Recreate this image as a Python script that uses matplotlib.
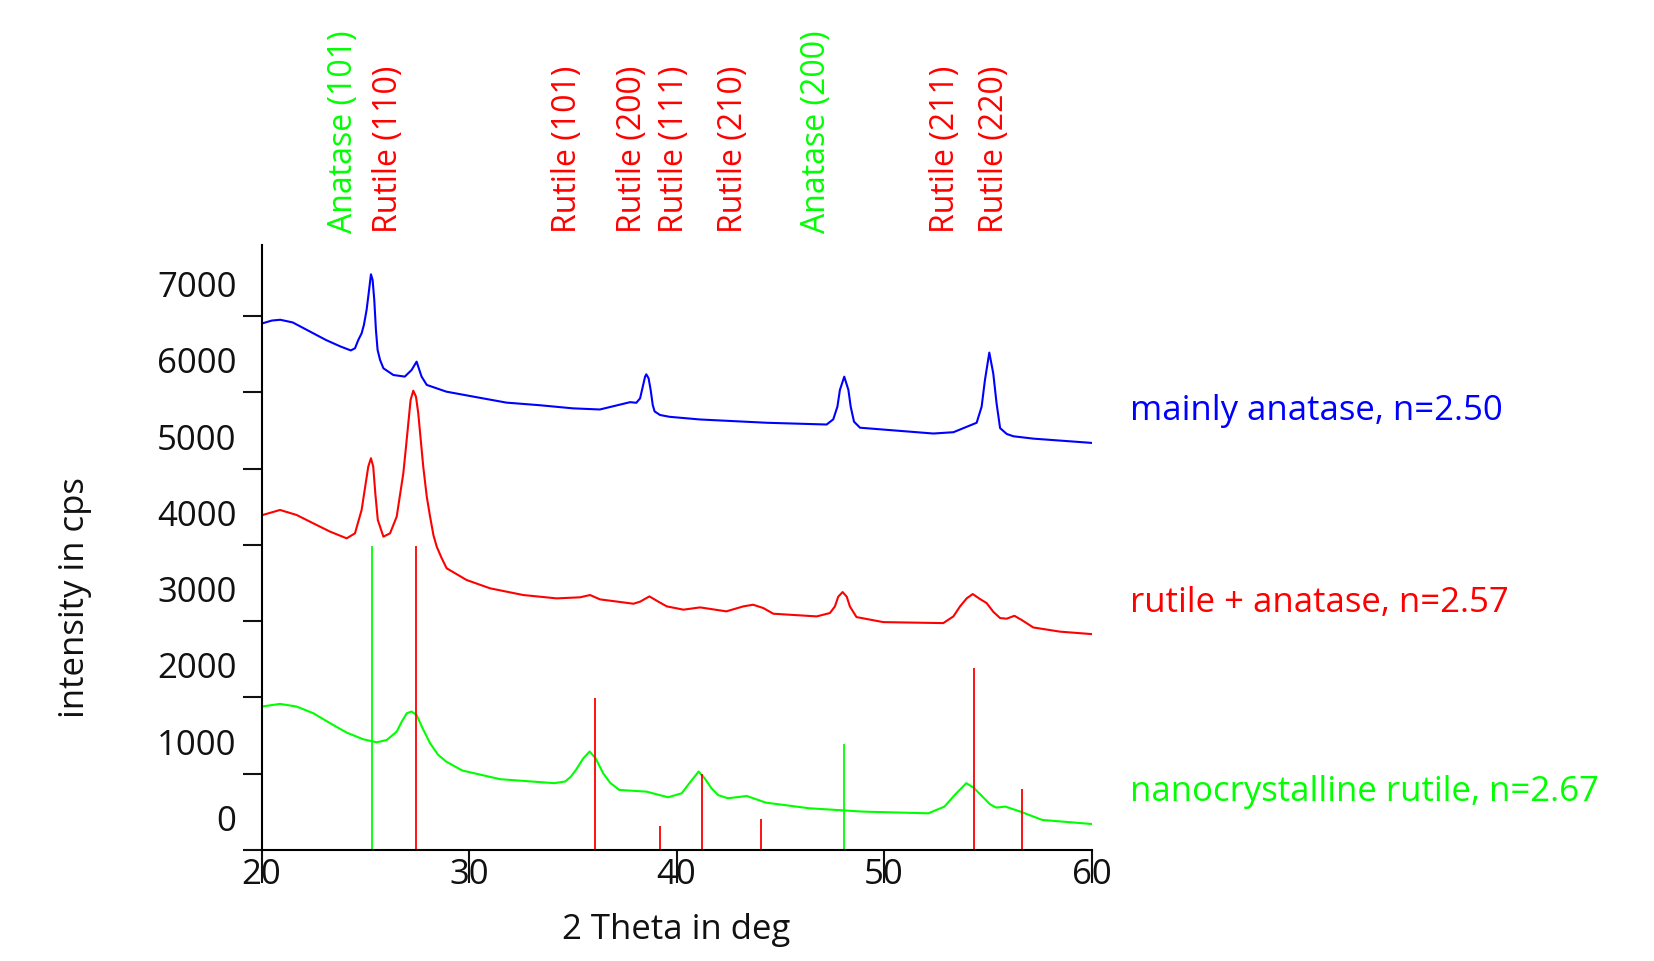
import matplotlib.pyplot as plt
import matplotlib.transforms as mtransforms

plt.rcParams['font.family'] = ['Open Sans', 'DejaVu Sans']

# XRD scans, 2 theta in deg / intensity in cps
anatase_2th = [20.0, 20.5, 20.9, 21.5, 22.3, 23.1, 23.8, 24.3, 24.5, 24.66, 24.82, 24.93,
               25.06, 25.16, 25.27, 25.35, 25.43, 25.51, 25.59, 25.71, 25.87, 26.35, 26.9,
               27.23, 27.47, 27.71, 27.96, 28.9, 30.2, 31.8, 33.4, 35.0, 36.3, 37.76, 38.06,
               38.24, 38.37, 38.48, 38.54, 38.65, 38.75, 38.85, 38.94, 39.2, 39.66, 41.13,
               44.34, 47.23, 47.55, 47.75, 47.87, 48.08, 48.28, 48.39, 48.55, 48.84, 52.37,
               53.34, 53.98, 54.46, 54.7, 54.86, 55.07, 55.26, 55.42, 55.59, 55.91, 56.23,
               57.19, 60.0]
anatase_cps = [6900, 6940, 6950, 6915, 6800, 6685, 6600, 6548, 6576, 6685, 6772, 6882,
               7079, 7297, 7546, 7471, 7209, 6816, 6554, 6423, 6314, 6226, 6205,
               6292, 6401, 6205, 6096, 6008, 5943, 5864, 5830, 5789, 5774, 5870, 5862,
               5920, 6073, 6204, 6235, 6183, 6030, 5833, 5749, 5702, 5678, 5643,
               5600, 5577, 5645, 5811, 6030, 6204, 6030, 5811, 5614, 5535, 5459,
               5476, 5547, 5600, 5811, 6160, 6520, 6248, 5855, 5530, 5453, 5423,
               5392, 5336]

mixed_2th = [20.05, 20.89, 21.69, 22.49, 23.3, 24.1, 24.5, 24.82, 24.98, 25.14, 25.27, 25.38,
             25.48, 25.6, 25.87, 26.19, 26.51, 26.83, 26.96, 27.07, 27.18, 27.31, 27.44,
             27.55, 27.67, 27.79, 27.96, 28.12, 28.28, 28.44, 28.68, 28.92, 29.88, 31.01,
             32.61, 34.22, 35.34, 35.83, 36.31, 37.92, 38.24, 38.69, 39.12, 39.53, 40.33,
             41.13, 42.4, 43.21, 43.69, 44.18, 44.66, 46.75, 47.39, 47.63, 47.79, 48.0,
             48.2, 48.35, 48.67, 49.96, 52.85, 53.34, 53.66, 53.98, 54.27, 54.62, 54.94,
             55.26, 55.59, 55.91, 56.28, 56.63, 57.19, 58.48, 60.0]
mixed_cps = [4391, 4457, 4391, 4282, 4173, 4085, 4151, 4457, 4741, 5024, 5135, 5024,
             4675, 4326, 4107, 4151, 4369, 4938, 5287, 5593, 5898, 6020, 5942,
             5724, 5374, 5025, 4631, 4369, 4129, 3976, 3824, 3692, 3539, 3430,
             3342, 3298, 3312, 3342, 3285, 3228, 3255, 3324, 3255, 3193, 3150,
             3180, 3128, 3193, 3215, 3171, 3097, 3062, 3106, 3193, 3320, 3381,
             3320, 3193, 3053, 2987, 2974, 3062, 3193, 3298, 3355, 3290, 3237,
             3123, 3040, 3032, 3070, 3015, 2917, 2862, 2830]

nano_2th = [20.0, 20.89, 21.69, 22.49, 23.3, 24.1, 24.9, 25.55, 26.03, 26.51, 26.75, 27.0,
            27.23, 27.47, 27.75, 28.12, 28.5, 28.89, 29.67, 31.5, 34.11, 34.63, 34.9,
            35.15, 35.5, 35.81, 36.1, 36.46, 36.8, 37.24, 38.55, 39.59, 40.25, 40.6,
            41.06, 41.35, 41.68, 42.0, 42.47, 43.38, 44.3, 46.39, 49.0, 52.13, 52.91,
            53.4, 53.96, 54.3, 54.74, 55.1, 55.4, 55.84, 56.57, 57.62, 60.0]
nano_cps = [1880, 1915, 1880, 1793, 1662, 1539, 1451, 1412, 1442, 1551, 1680, 1793,
            1815, 1770, 1600, 1399, 1250, 1160, 1042, 928, 876, 898, 960,
            1050, 1200, 1291, 1200, 1006, 880, 787, 765, 691, 744, 870,
            1028, 940, 809, 720, 678, 708, 621, 547, 503, 481, 569,
            720, 876, 820, 700, 600, 556, 569, 503, 394, 341]

series_labels = ['mainly anatase, n=2.50', 'rutile + anatase, n=2.57',
                 'nanocrystalline rutile, n=2.67']
series_colors = ['#0000ff', '#ff0000', '#00ff00']

# reference reflections
ref_names = ['Anatase (101)', 'Rutile (110)', 'Rutile (101)', 'Rutile (200)', 'Rutile (111)',
             'Rutile (210)', 'Anatase (200)', 'Rutile (211)', 'Rutile (220)']
ref_2th = [25.3, 27.45, 36.09, 39.2, 41.24, 44.07, 48.07, 54.33, 56.65]
ref_cps = [3980, 3980, 1990, 320, 1000, 400, 1395, 2390, 798]
ref_colors = ['#00ff00', '#ff0000', '#ff0000', '#ff0000', '#ff0000',
              '#ff0000', '#00ff00', '#ff0000', '#ff0000']

W, H = 1654, 961
fig = plt.figure(figsize=(W / 100, H / 100), dpi=100)
ax = fig.add_axes([261.6 / W, 1 - 850 / H, 830 / W, 605 / H])

for xs, ys, c in zip([anatase_2th, mixed_2th, nano_2th],
                     [anatase_cps, mixed_cps, nano_cps], series_colors):
    ax.plot(xs, ys, color=c, lw=1.5, solid_joinstyle='round')

for x, h, c in zip(ref_2th, ref_cps, ref_colors):
    ax.vlines(x, 0, h, color=c, lw=1.3)

ax.set_xlim(20, 60)
ax.set_ylim(0, 7930)
ax.set_xticks([20, 30, 40, 50, 60])
ax.set_yticks(range(0, 8000, 1000))
for s in ['top', 'right']:
    ax.spines[s].set_visible(False)
for s in ['left', 'bottom']:
    ax.spines[s].set_linewidth(1.5)
ax.tick_params(axis='y', length=13.7, width=1.5, pad=4.3, labelsize=25, colors='#111111')
ax.tick_params(axis='x', length=23.5, width=1.5, pad=-18, labelsize=25, colors='#111111')

# y labels sit above their tick marks
shift = mtransforms.ScaledTranslation(0, 32 / 100, fig.dpi_scale_trans)
for lab in ax.get_yticklabels():
    lab.set_transform(lab.get_transform() + shift)

# reflection names above the plot
trans = mtransforms.blended_transform_factory(ax.transData, ax.transAxes)
lshift = mtransforms.ScaledTranslation(-28 / 100, 0, fig.dpi_scale_trans)
for name, x, c in zip(ref_names, ref_2th, ref_colors):
    ax.text(x, 1 + 12 / 605, name, color=c, fontsize=23, rotation=90,
            ha='center', va='bottom', transform=trans + lshift)

for lab, c, yc in zip(series_labels, series_colors, [411, 603, 792]):
    fig.text(1130 / W, 1 - yc / H, lab, color=c, fontsize=25, ha='left', va='center')

fig.text(75 / W, 1 - 598 / H, 'intensity in cps', rotation=90, fontsize=25,
         ha='center', va='center', color='#111111')
fig.text(676 / W, 1 - 930 / H, '2 Theta in deg', fontsize=25,
         ha='center', va='center', color='#111111')

fig.savefig('out.png', dpi=100)
